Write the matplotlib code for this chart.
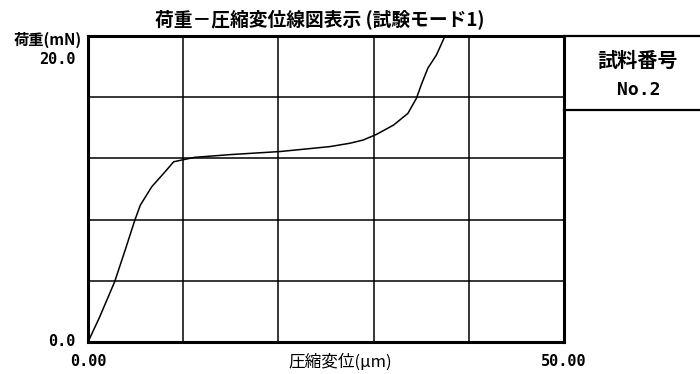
import matplotlib

matplotlib.use("Agg")
import matplotlib.pyplot as plt
from matplotlib.lines import Line2D

plt.rcParams["font.family"] = ["Noto Sans CJK JP", "DejaVu Sans"]

# load-displacement curve (test mode 1, sample No.2)
displacement = [0.0, 1.2, 2.8, 3.9, 4.9, 5.5, 6.7, 8.1, 9.0, 10.2, 11.2,
                15.0, 20.2, 25.4, 27.5, 28.9, 30.3, 32.1, 33.6, 34.2,
                34.5, 35.0, 35.7, 36.6, 37.5]
load = [0.0, 1.6, 3.94, 6.0, 7.93, 8.95, 10.15, 11.13, 11.78, 11.94, 12.07,
        12.25, 12.45, 12.77, 12.99, 13.2, 13.57, 14.18, 14.94, 15.6,
        15.93, 16.8, 17.9, 18.76, 20.0]

x_range = (0.0, 50.0)
y_range = (0.0, 20.0)
x_grid = [0, 10, 20, 30, 40, 50]
y_grid = [0, 4, 8, 12, 16, 20]
x_tick_labels = ["0.00", "50.00"]
y_tick_labels = ["0.0", "20.0"]
sample_no = "No.2"

W, H = 700, 374
fig = plt.figure(figsize=(W / 100, H / 100), dpi=100)
ax = fig.add_axes([88 / W, 1 - 342 / H, 476 / W, 306 / H])

ax.plot(displacement, load, color="black", lw=1.1, zorder=3)
ax.set_xlim(*x_range)
ax.set_ylim(*y_range)
ax.set_xticks(x_grid)
ax.set_yticks(y_grid)
ax.tick_params(length=0, labelbottom=False, labelleft=False)
ax.grid(True, color="black", lw=1.1)
for spine in ax.spines.values():
    spine.set_linewidth(2.2)

mono = dict(family="DejaVu Sans Mono", fontweight="bold", fontsize=11)

def px(x, y):
    return x / W, 1 - y / H

fig.text(*px(320, 19), "荷重－圧縮変位線図表示 (試験モード1)", ha="center",
         va="center", fontsize=13.5, fontweight="bold")
fig.text(*px(82, 40), "荷重(mN)", ha="right", va="center", fontsize=11,
         fontweight="bold")
fig.text(*px(340, 362), "圧縮変位(µm)", ha="center", va="center",
         fontsize=12)

# axis end values
ax.text(-0.027, 1 - 23 / 306, y_tick_labels[1], transform=ax.transAxes,
        ha="right", va="center", **mono)
ax.text(-0.027, 0, y_tick_labels[0], transform=ax.transAxes,
        ha="right", va="center", **mono)
ax.text(x_range[0], -20 / 306 * (y_range[1] - y_range[0]), x_tick_labels[0],
        ha="center", va="center", clip_on=False, **mono)
ax.text(x_range[1], -20 / 306 * (y_range[1] - y_range[0]), x_tick_labels[1],
        ha="center", va="center", clip_on=False, **mono)

# sample number box
for yy in (36, 110):
    fig.add_artist(Line2D([564 / W, 1.0], [1 - yy / H] * 2, color="black",
                          lw=1.6))
fig.text(*px(638, 60), "試料番号", ha="center", va="center", fontsize=14.5,
         fontweight="bold")
fig.text(*px(639, 90), sample_no, ha="center", va="center",
         family="DejaVu Sans Mono", fontweight="bold", fontsize=13)

fig.savefig("out.png", dpi=100, facecolor="white")
